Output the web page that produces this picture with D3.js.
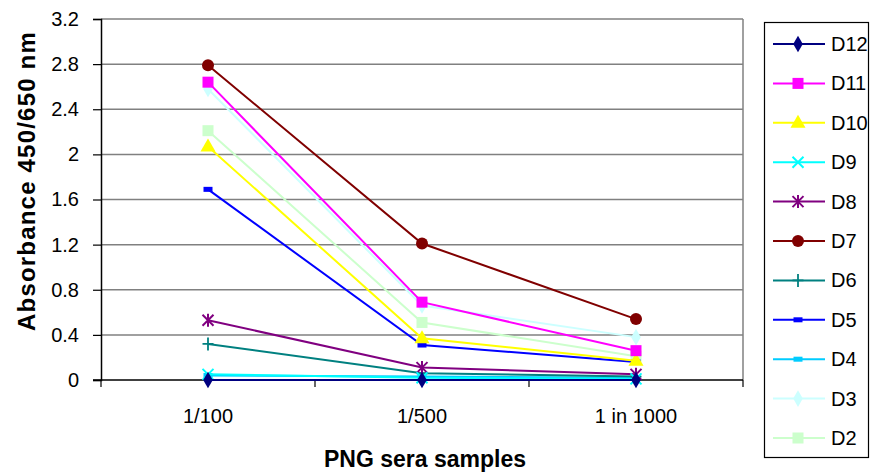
<!DOCTYPE html>
<html><head><meta charset="utf-8">
<script src="https://cdn.jsdelivr.net/npm/d3@7"></script>
<style>body{margin:0;background:#fff}svg{display:block;font-family:"Liberation Sans",Arial,sans-serif}</style>
</head><body><svg id="c" width="880" height="474"></svg>
<script>
const categories = ["1/100", "1/500", "1 in 1000"];
const yTicks = [0, 0.4, 0.8, 1.2, 1.6, 2, 2.4, 2.8, 3.2];
const seriesNames = ["D12","D11","D10","D9","D8","D7","D6","D5","D4","D3","D2"];
const D12 = [0.0, 0.0, 0.0];
const D11 = [2.64, 0.69, 0.26];
const D10 = [2.07, 0.37, 0.17];
const D9  = [0.05, 0.02, 0.01];
const D8  = [0.53, 0.11, 0.05];
const D7  = [2.79, 1.21, 0.54];
const D6  = [0.32, 0.06, 0.03];
const D5  = [1.69, 0.31, 0.16];
const D4  = [0.04, 0.03, 0.02];
const D3  = [2.58, 0.66, 0.38];
const D2  = [2.21, 0.51, 0.21];
const seriesValues = [D12,D11,D10,D9,D8,D7,D6,D5,D4,D3,D2];
const colors = ["#000080","#FF00FF","#FFFF00","#00FFFF","#800080","#800000","#008080","#0000FF","#00CCFF","#CCFFFF","#CCFFCC"];
const markers = ["diamond","square","triangle","x","star","circle","plus","dash","dash","diamond","square"];

const svg = d3.select("#c");
const L = 101, R = 743, T = 19, B = 380;
const x = d3.scaleBand().domain(categories).range([L, R]);
const y = d3.scaleLinear().domain([0, 3.2]).range([B, T]);

svg.append("g").selectAll("line").data(yTicks.slice(1)).join("line")
  .attr("x1", L).attr("x2", R).attr("y1", d => y(d)).attr("y2", d => y(d))
  .attr("stroke", "#808080").attr("stroke-width", 1.5);
svg.append("line").attr("x1", R).attr("x2", R).attr("y1", T).attr("y2", B)
  .attr("stroke", "#808080").attr("stroke-width", 1.5);

const ya = svg.append("g").attr("transform", `translate(${L},0)`)
  .call(d3.axisLeft(y).tickValues(yTicks).tickSize(8).tickPadding(14).tickFormat(d => d3.format("")(d)));
ya.select(".domain").attr("stroke", "#000").attr("stroke-width", 1.5);
ya.selectAll(".tick line").attr("stroke", "#000").attr("stroke-width", 1.2);
ya.selectAll("text").attr("font-size", 20).attr("fill", "#000").attr("font-family", "Liberation Sans, Arial, sans-serif");

const xa = svg.append("g").attr("transform", `translate(0,${B})`);
xa.append("line").attr("x1", L - 8).attr("x2", R).attr("y1", 0).attr("y2", 0).attr("stroke", "#000").attr("stroke-width", 1.5);
const bounds = [L].concat(categories.map(c => x(c) + x.bandwidth()));
xa.selectAll("line.t").data(bounds).join("line").attr("class", "t")
  .attr("x1", d => d).attr("x2", d => d).attr("y1", 0).attr("y2", 7).attr("stroke", "#000").attr("stroke-width", 1.2);
xa.selectAll("text").data(categories).join("text")
  .attr("x", d => x(d) + x.bandwidth() / 2).attr("y", 43).attr("text-anchor", "middle")
  .attr("font-size", 20).text(d => d);

svg.append("text").attr("transform", "translate(35,181) rotate(-90)").attr("text-anchor", "middle")
  .attr("font-size", 24).attr("font-weight", "bold").attr("letter-spacing", 1.2).text("Absorbance 450/650 nm");
svg.append("text").attr("x", 425).attr("y", 467).attr("text-anchor", "middle")
  .attr("font-size", 23).attr("font-weight", "bold").text("PNG sera samples");

function drawMarker(g, type, color, cx, cy) {
  if (type === "diamond") g.append("path").attr("d", d3.symbol(d3.symbolDiamond, 80)()).attr("transform", `translate(${cx},${cy})`).attr("fill", color);
  else if (type === "square") g.append("rect").attr("x", cx - 5.5).attr("y", cy - 5.5).attr("width", 11).attr("height", 11).attr("fill", color);
  else if (type === "triangle") g.append("path").attr("d", `M${cx},${cy-8}L${cx+7.5},${cy+5}L${cx-7.5},${cy+5}Z`).attr("fill", color);
  else if (type === "circle") g.append("circle").attr("cx", cx).attr("cy", cy).attr("r", 6).attr("fill", color);
  else if (type === "x") g.append("path").attr("d", `M${cx-5.5},${cy-5.5}L${cx+5.5},${cy+5.5}M${cx-5.5},${cy+5.5}L${cx+5.5},${cy-5.5}`).attr("stroke", color).attr("stroke-width", 2);
  else if (type === "star") g.append("path").attr("d", `M${cx-5.5},${cy-5.5}L${cx+5.5},${cy+5.5}M${cx-5.5},${cy+5.5}L${cx+5.5},${cy-5.5}M${cx},${cy-6.5}L${cx},${cy+6.5}`).attr("stroke", color).attr("stroke-width", 2);
  else if (type === "plus") g.append("path").attr("d", `M${cx-5.5},${cy}L${cx+5.5},${cy}M${cx},${cy-6.5}L${cx},${cy+6.5}`).attr("stroke", color).attr("stroke-width", 1.8);
  else if (type === "dash") g.append("rect").attr("x", cx - 4.5).attr("y", cy - 2.5).attr("width", 9).attr("height", 5).attr("fill", color);
}

const plot = svg.append("g");
const line = d3.line().x((d, i) => x(categories[i]) + x.bandwidth() / 2).y(d => y(d));
for (let k = seriesNames.length - 1; k >= 0; k--) {
  const g = plot.append("g");
  g.append("path").attr("d", line(seriesValues[k])).attr("fill", "none").attr("stroke", colors[k]).attr("stroke-width", 2);
  seriesValues[k].forEach((v, i) => drawMarker(g, markers[k], colors[k], x(categories[i]) + x.bandwidth() / 2, y(v)));
}

const lg = svg.append("g");
lg.append("rect").attr("x", 764.5).attr("y", 22.5).attr("width", 104).attr("height", 435).attr("fill", "#fff").attr("stroke", "#000").attr("stroke-width", 1.2);
seriesNames.forEach((n, k) => {
  const cy = 44 + k * 39.4;
  lg.append("line").attr("x1", 773).attr("x2", 825).attr("y1", cy).attr("y2", cy).attr("stroke", colors[k]).attr("stroke-width", 2);
  drawMarker(lg, markers[k], colors[k], 798, cy);
  lg.append("text").attr("x", 831).attr("y", cy + 7).attr("font-size", 20).text(n);
});
</script></body></html>
